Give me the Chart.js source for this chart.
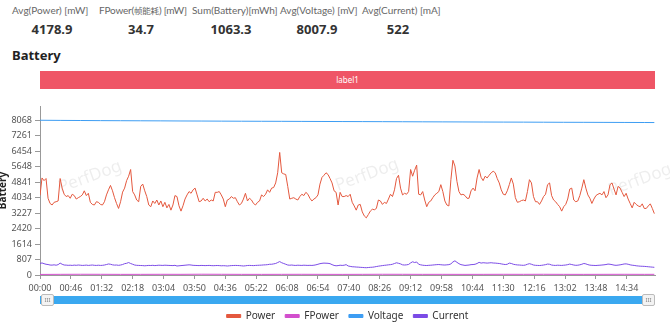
<!DOCTYPE html>
<html>
<head>
<meta charset="utf-8">
<script src="https://cdn.jsdelivr.net/npm/chart.js@4"></script>
<style>
  body { margin: 0; width: 670px; height: 328px; overflow: hidden; background: #fff; position: relative;
         font-family: "Noto Sans", "Noto Sans CJK SC", sans-serif; }
  .lbl { position: absolute; top: 4px; line-height: 12px; font-family: Lato, "Noto Sans CJK SC", sans-serif;
         font-size: 10px; color: #666; white-space: nowrap; }
  .lbl .cjk { font-size: 8.5px; }
  .val { position: absolute; top: 21px; width: 100px; line-height: 16px; font-size: 13px; font-weight: bold;
         color: #333; text-align: center; }
  #title { position: absolute; left: 12px; top: 47px; line-height: 16px; font-size: 13px; font-weight: bold; color: #222; }
  #label1 { position: absolute; left: 40px; top: 71px; width: 615px; height: 18px; line-height: 18px; background: #ef5566;
            color: #fff; font-size: 8px; text-align: center; }
  #wrap { position: absolute; left: 0; top: 95px; width: 670px; height: 245px; }
  #bar { position: absolute; left: 40px; top: 296px; width: 615px; height: 8px; background: #3aa8f0; }
  .handle { position: absolute; top: 294px; width: 13px; height: 12px; box-sizing: border-box; background: #f3f3f3;
            border: 1px solid #bbb; border-radius: 2px; font-size: 6px; line-height: 10px; color: #888; text-align: center; }
</style>
</head>
<body>
<div class="lbl" style="left:12px">Avg(Power) [mW]</div>
<div class="lbl" style="left:99px;letter-spacing:-0.2px">FPower(<span class="cjk">帧能耗</span>) [mW]</div>
<div class="lbl" style="left:192px">Sum(Battery)[mWh]</div>
<div class="lbl" style="left:280px">Avg(Voltage) [mV]</div>
<div class="lbl" style="left:362px">Avg(Current) [mA]</div>
<div class="val" style="left:2px">4178.9</div>
<div class="val" style="left:91px">34.7</div>
<div class="val" style="left:181px">1063.3</div>
<div class="val" style="left:267px">8007.9</div>
<div class="val" style="left:348px">522</div>
<div id="title">Battery</div>
<div id="label1">label1</div>
<div id="wrap"><canvas id="c" width="670" height="245"></canvas></div>
<div id="bar"></div>
<div class="handle" style="left:41px">III</div>
<div class="handle" style="left:642px">III</div>
<script>
// samples every 3 s (power, current)
const STEP = 3;
const power = [
  4150, 5060, 4920, 5030, 4000, 3730, 3650, 3790, 3820, 3860,
  5030, 4530, 4210, 4090, 4140, 4000, 4210, 4140, 3960, 4030,
  4090, 4175, 4390, 4140, 4260, 3790, 3680, 3650, 3820, 3790,
  3680, 3650, 3820, 4175, 4440, 4670, 4390, 4030, 3730, 3470,
  3820, 4320, 4530, 4920, 5150, 5500, 4350, 4175, 3910, 3820,
  4620, 4740, 4390, 4090, 3650, 3560, 3860, 3730, 3910, 3650,
  3860, 3560, 3790, 3500, 3680, 3380, 3650, 4140, 4090, 3610,
  3330, 3610, 3960, 4175, 4350, 4260, 4440, 4530, 4175,
  3820, 3860, 4000, 3860, 3960, 3820, 3910, 3860, 4310, 4310,
  4350, 4175, 3960, 3560, 3910, 3960, 4090, 4000, 4030, 3820,
  3650, 3730, 3960, 4260, 3860, 4000, 3910, 3730, 3650, 3790,
  3860, 4175, 4090, 4210, 4440, 4310, 4530, 4560, 4800, 5330,
  6390, 5330, 5270, 5240, 4620, 3960, 4000, 4030, 3960, 3910,
  4090, 4210, 4140, 4310, 4210, 4000, 3860, 3960, 4030, 4175,
  4740, 5090, 5200, 5330, 5240, 5030, 4800, 4390, 4310, 3650,
  4310, 4090, 4090, 4140, 4090, 4210, 3790,
  3600, 3380, 3650, 3680, 3290, 3080, 2980, 3150, 3330, 3430,
  3400, 3470, 3910, 3860, 3680, 3790, 3730, 3960, 4210, 4090,
  4440, 5030, 5200, 4530, 4175, 4260, 4210, 4350, 5500, 5150,
  5460, 5730, 4210, 4175, 4350, 3910, 3560, 3790, 3860, 4030,
  4175, 4260, 4350, 4710, 4350, 3860, 3650, 3600, 4970, 5980,
  5680, 4880, 4350, 4175, 4210, 4140, 4000, 4000, 4390, 4530,
  4390, 5060, 5500, 5090, 4920, 5150, 5060, 5200, 5330, 5410,
  5330, 5030, 4800, 4440, 4210, 4175, 4390,
  4710, 5060, 4740, 4030, 3790, 3820, 3880, 3910, 3860, 4350,
  4970, 4800, 4090, 3820, 3820, 3680, 3860, 4090, 4210, 4710,
  4800, 4140, 3910, 3820, 3680, 3560, 3330, 3560, 3680, 3960,
  4480, 4530, 3910, 3820, 3860, 4140, 4530, 4970, 4530, 4175,
  4000, 3730, 3960, 4140, 4210, 4260, 4175, 4350, 4030, 4175,
  4710, 4800, 4480, 4175, 4620, 4530, 4310, 4090, 4260, 3960,
  3730, 3500, 3790, 3680, 3600, 3560, 3710, 3470, 3470, 3600,
  3710, 3470, 3200
];
const current = [
  600, 630, 590, 560, 545, 520, 515, 530, 510, 540,
  620, 560, 520, 515, 505, 510, 500, 515, 505, 520,
  510, 500, 505, 515, 500, 510, 520, 505, 500, 510,
  500, 505, 520, 545, 575, 560, 530, 515, 520, 505,
  520, 545, 590, 610, 650, 600, 560, 520, 505, 500,
  495, 490, 480, 490, 500, 495, 505, 490, 500, 510,
  505, 500, 510, 505, 500, 495, 490, 505, 470, 480,
  490, 500, 510, 520, 530, 520, 505, 500, 495, 490,
  500, 495, 490, 495, 500, 490, 485, 490, 495, 490,
  480, 485, 480, 470, 480, 490, 495, 500, 495, 490,
  480, 470, 480, 495, 500, 495, 490, 500, 505, 510,
  515, 525, 530, 540, 560, 560, 580, 600, 650, 700,
  640, 600, 560, 520, 510, 520, 505, 500, 510, 505,
  500, 510, 505, 500, 505, 500, 510, 530, 560, 590,
  610, 620, 615, 610, 590, 540, 500, 480, 490, 510,
  500, 510,
  540, 470, 450, 430, 425, 415, 410, 400, 395, 385,
  380, 390, 400, 405, 420, 440, 460, 475, 490, 505,
  515, 530, 540, 560, 600, 637, 610, 580, 530, 520,
  530, 550, 630, 690, 650, 680, 560, 530, 510, 500,
  495, 505, 510, 520, 530, 540, 545, 535, 525, 520,
  530, 540, 580, 680, 740, 660, 590, 540, 520, 500,
  510, 520, 540, 545, 560, 600, 660, 620, 640, 630,
  620, 630, 640, 625, 620, 610, 600, 580, 560, 545,
  560, 620, 600, 560, 540, 525, 520, 510, 505, 520,
  560, 590, 560, 520, 505, 500, 495, 505, 520, 540,
  570, 560, 520, 505, 500, 510, 505, 500, 510, 520,
  540, 570, 545, 520, 505, 510, 530, 560, 600, 580,
  540, 515, 505, 500, 495, 505, 510, 520, 530, 545,
  570, 560, 540, 515, 505, 515, 530, 550, 575, 580,
  560, 530, 510, 500, 480, 470, 460, 455, 450, 440,
  430, 420, 410, 400
];
// slow channels, read every 30 s
const slowTimes = [0, 30, 60, 90, 120, 150, 180, 210, 240, 270, 300, 330, 360, 390, 420, 450,
  480, 510, 540, 570, 600, 630, 660, 690, 720, 750, 780, 810, 840, 870, 900, 915];
const voltage = [8068, 8060, 8055, 8048, 8044, 8040, 8036, 8030, 8027, 8022, 8018, 8015, 8012, 8008, 8004, 8000,
  7998, 7994, 7990, 7986, 7983, 7980, 7976, 7972, 7970, 7966, 7962, 7960, 7957, 7954, 7950, 7948];
const fpower = [30, 35, 38, 36, 33, 34, 36, 35, 40, 37, 34, 33, 35, 36, 34, 32,
  35, 38, 36, 34, 35, 33, 34, 36, 35, 37, 34, 33, 35, 36, 34, 35];

const xTickLabels = ['00:00', '00:46', '01:32', '02:18', '03:04', '03:50', '04:36', '05:22', '06:08', '06:54',
  '07:40', '08:26', '09:12', '09:58', '10:44', '11:30', '12:16', '13:02', '13:48', '14:34'];
const yTicks = [0, 807, 1614, 2420, 3227, 4034, 4841, 5648, 6454, 7261, 8068];

const times = power.map((v, i) => i * STEP);
const toSec = s => { const p = s.split(':'); return +p[0] * 60 + +p[1]; };
const pts = (ts, vals) => ts.map((t, i) => ({ x: t, y: vals[i] }));

Chart.defaults.font.family = '"Noto Sans", sans-serif';
Chart.defaults.font.size = 9;

// faint PerfDog watermark behind the lines
const watermark = {
  id: 'watermark',
  beforeDatasetsDraw(chart) {
    const ctx = chart.ctx;
    ctx.save();
    ctx.font = '17px "Noto Sans", sans-serif';
    ctx.fillStyle = 'rgba(0,0,0,0.07)';
    ctx.textAlign = 'center';
    ctx.textBaseline = 'middle';
    [[90, 82], [367, 80], [640, 85]].forEach(([x, y]) => {
      ctx.save();
      ctx.translate(x, y);
      ctx.rotate(-0.35);
      ctx.fillText('PerfDog', 0, 0);
      ctx.restore();
    });
    ctx.restore();
  }
};

// center legend on the plot area instead of the whole canvas
const legendShift = {
  id: 'legendShift',
  afterLayout(chart) {
    chart.legend.left = chart.chartArea.left;
    chart.legend.right = chart.chartArea.right;
  }
};

new Chart(document.getElementById('c'), {
  type: 'line',
  data: {
    datasets: [
      { label: 'Power', data: pts(times, power), borderColor: '#e4583e', backgroundColor: '#e4583e' },
      { label: 'FPower', data: pts(slowTimes, fpower), borderColor: '#d24fcd', backgroundColor: '#d24fcd' },
      { label: 'Voltage', data: pts(slowTimes, voltage), borderColor: '#3d9df3', backgroundColor: '#3d9df3' },
      { label: 'Current', data: pts(times, current), borderColor: '#7b4be6', backgroundColor: '#7b4be6' }
    ]
  },
  options: {
    responsive: false,
    animation: false,
    elements: { point: { radius: 0 }, line: { borderWidth: 1, tension: 0 } },
    layout: { padding: { top: 11, right: 15, bottom: 9, left: 0 } },
    plugins: {
      tooltip: { enabled: false },
      legend: {
        position: 'bottom',
        labels: { boxWidth: 14, boxHeight: 3, padding: 10, color: '#333', font: { size: 10 } }
      }
    },
    scales: {
      x: {
        type: 'linear', min: 0, max: 916,
        afterBuildTicks: s => { s.ticks = xTickLabels.map(l => ({ value: toSec(l) })); },
        afterFit: s => { s.height = 26; },
        ticks: { callback: (v, i) => xTickLabels[i], autoSkip: false, maxRotation: 0, padding: 4, color: '#555' },
        grid: { drawOnChartArea: false, tickLength: 4, color: '#999' },
        border: { color: '#999' }
      },
      y: {
        min: 0, max: 8811,
        afterBuildTicks: s => { s.ticks = yTicks.map(v => ({ value: v })); },
        afterFit: s => { s.width = 40; },
        ticks: { callback: v => String(v), padding: 3, color: '#555' },
        grid: { drawOnChartArea: false, tickLength: 5, color: '#999' },
        border: { color: '#999' },
        title: { display: true, text: 'Battery', color: '#222', font: { size: 10, weight: 'bold' }, padding: { top: -3, bottom: 0 } }
      }
    }
  },
  plugins: [watermark, legendShift]
});
</script>
</body>
</html>
